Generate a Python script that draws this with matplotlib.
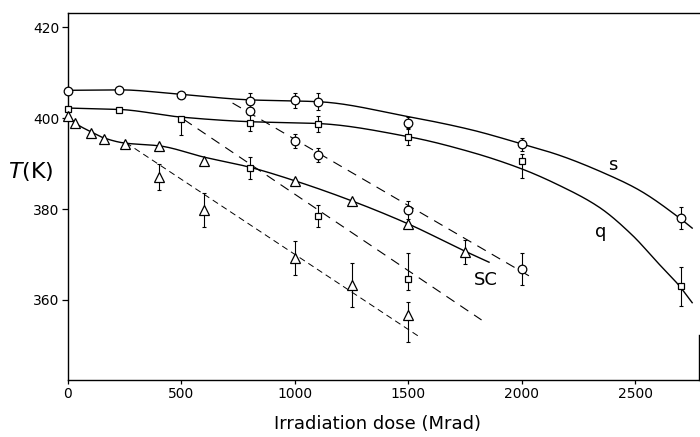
import numpy as np
import matplotlib
matplotlib.use("Agg")
import matplotlib.pyplot as plt
from matplotlib import font_manager

# ---------------- data ----------------
# series s (circles, solid curve)
s_dose = [0, 225, 500, 800, 1000, 1100, 1500, 2000, 2700]
s_T = [406.0, 406.2, 405.1, 403.7, 403.9, 403.6, 399.0, 394.2, 378.0]
s_err = [0, 0, 0, 1.7, 1.7, 1.8, 1.2, 1.4, 2.4]
s_curve_dose = [0, 225, 500, 800, 1100, 1500, 1770, 2000, 2160, 2380, 2515, 2700, 2750]
s_curve_T = [406.1, 406.2, 405.2, 404.0, 403.6, 400.3, 397.5, 394.3, 391.9, 387.5, 384.2, 377.8, 375.8]

# series q (squares, solid curve)
q_dose = [0, 225, 500, 800, 1100, 1500, 2000, 2700]
q_T = [402.1, 401.8, 399.9, 399.0, 398.7, 395.8, 390.6, 363.1]
q_err_low = [0, 0, 3.6, 1.8, 1.8, 1.7, 3.7, 4.5]
q_err_up = [0, 0, 0, 1.8, 1.8, 1.7, 1.6, 4.2]
q_curve_dose = [0, 225, 500, 800, 1100, 1500, 1770, 2000, 2160, 2340, 2485, 2600, 2690, 2750]
q_curve_T = [402.2, 401.9, 400.2, 399.2, 398.8, 395.9, 392.6, 388.8, 385.3, 380.4, 374.3, 368.1, 363.3, 359.4]

# series SC (triangles, solid curve)
sc_dose = [0, 30, 100, 160, 250, 400, 600, 1000, 1250, 1500, 1750]
sc_T = [400.5, 398.9, 396.8, 395.4, 394.4, 393.8, 390.5, 386.2, 381.8, 376.7, 370.5]
sc_err = [0, 0, 0, 0, 0, 0, 0, 0, 0, 0, 2.7]
sc_curve_dose = [0, 30, 100, 160, 250, 400, 600, 800, 1000, 1250, 1500, 1750, 1855]
sc_curve_T = [400.6, 399.0, 397.0, 395.6, 394.5, 393.9, 391.4, 389.2, 386.2, 381.8, 376.7, 370.7, 368.3]

# dashed series: circles
cd_dose = [800, 1000, 1100, 1500, 2000]
cd_T = [401.5, 395.0, 391.9, 379.8, 366.8]
cd_err = [0, 1.6, 1.6, 2.0, 3.5]
cd_line_dose = [725, 2055]
cd_line_T = [403.3, 364.6]

# dashed series: squares
sd_dose = [800, 1100, 1500]
sd_T = [389.1, 378.5, 364.7]
sd_err_low = [2.4, 2.4, 2.4]
sd_err_up = [2.4, 2.4, 5.6]
sd_line_dose = [510, 1822]
sd_line_T = [399.7, 355.6]

# dashed series: triangles
td_dose = [400, 600, 1000, 1250, 1500]
td_T = [387.1, 379.8, 369.3, 363.3, 356.8]
td_err_low = [2.9, 3.8, 3.8, 4.8, 6.0]
td_err_up = [2.9, 3.8, 3.7, 4.8, 2.8]
td_line_dose = [255, 1545]
td_line_T = [394.6, 352.0]

x_ticks = [0, 500, 1000, 1500, 2000, 2500]
y_ticks = [360, 380, 400, 420]
curve_labels = ["s", "q", "SC"]
curve_label_dose = [2402, 2347, 1841]
curve_label_T = [389.7, 375.0, 364.4]


def pchip(x, y, xs):
    x = np.asarray(x, float)
    y = np.asarray(y, float)
    h = np.diff(x)
    d = np.diff(y) / h
    n = len(x)
    m = np.zeros(n)
    m[0] = d[0]
    m[-1] = d[-1]
    for k in range(1, n - 1):
        if d[k - 1] * d[k] > 0:
            w1 = 2 * h[k] + h[k - 1]
            w2 = h[k] + 2 * h[k - 1]
            m[k] = (w1 + w2) / (w1 / d[k - 1] + w2 / d[k])
    idx = np.clip(np.searchsorted(x, xs) - 1, 0, n - 2)
    t = (xs - x[idx]) / h[idx]
    h00 = 2 * t**3 - 3 * t**2 + 1
    h10 = t**3 - 2 * t**2 + t
    h01 = -2 * t**3 + 3 * t**2
    h11 = t**3 - t**2
    return h00 * y[idx] + h10 * h[idx] * m[idx] + h01 * y[idx + 1] + h11 * h[idx] * m[idx + 1]


# ---------------- fonts ----------------
fm_names = {f.name for f in font_manager.fontManager.ttflist}
if "Liberation Sans Narrow" in fm_names:
    narrow = dict(family="Liberation Sans Narrow")
    xlab_size, curve_size = 17, 16
else:
    narrow = dict(family="DejaVu Sans")
    xlab_size, curve_size = 13, 13

plt.rcParams["lines.scale_dashes"] = False
plt.rcParams["font.family"] = ["DejaVu Sans"]

fig = plt.figure(figsize=(7.0, 4.37), dpi=100)
ax = fig.add_axes([68 / 700, 57 / 437, 631 / 700, 367 / 437])

ax.set_xlim(0, 2780)
ax.set_ylim(342.4, 423.1)

# solid curves
for cx, cy in [(s_curve_dose, s_curve_T), (q_curve_dose, q_curve_T), (sc_curve_dose, sc_curve_T)]:
    xs = np.linspace(cx[0], cx[-1], 400)
    ax.plot(xs, pchip(cx, cy, xs), color="black", lw=1.0, zorder=2)

# dashed lines
ax.plot(cd_line_dose, cd_line_T, color="black", lw=0.8, dashes=(7, 5), zorder=2)
ax.plot(sd_line_dose, sd_line_T, color="black", lw=0.8, dashes=(7, 5), zorder=2)
ax.plot(td_line_dose, td_line_T, color="black", lw=0.7, dashes=(4.5, 3), zorder=2)

eb = dict(fmt="none", ecolor="black", elinewidth=0.8, capsize=1.5, capthick=0.8, zorder=3)
mk = dict(linestyle="none", markerfacecolor="white", markeredgecolor="black",
          markeredgewidth=0.9, zorder=4, clip_on=False)

ax.errorbar(s_dose, s_T, yerr=s_err, **eb)
ax.plot(s_dose, s_T, marker="o", markersize=6.2, **mk)

ax.errorbar(q_dose, q_T, yerr=[q_err_low, q_err_up], **eb)
ax.plot(q_dose, q_T, marker="s", markersize=5.0, **mk)

ax.errorbar(sc_dose, sc_T, yerr=sc_err, **eb)
ax.plot(sc_dose, sc_T, marker="^", markersize=6.5, **mk)

ax.errorbar(cd_dose, cd_T, yerr=cd_err, **eb)
ax.plot(cd_dose, cd_T, marker="o", markersize=6.2, **mk)

ax.errorbar(sd_dose, sd_T, yerr=[sd_err_low, sd_err_up], **eb)
ax.plot(sd_dose, sd_T, marker="s", markersize=5.0, **mk)

ax.errorbar(td_dose, td_T, yerr=[td_err_low, td_err_up], **eb)
ax.plot(td_dose, td_T, marker="^", markersize=6.5, **mk)

for lab, xd, yd in zip(curve_labels, curve_label_dose, curve_label_T):
    ax.text(xd, yd, lab, ha="center", va="center", fontsize=curve_size, color="black", **narrow)

# axes styling
ax.set_xticks(x_ticks)
ax.set_yticks(y_ticks)
ax.set_xticklabels([str(v) for v in x_ticks])
ax.set_yticklabels([str(v) for v in y_ticks])
ax.tick_params(axis="x", direction="out", length=3, width=0.9, pad=2, labelsize=10)
ax.tick_params(axis="y", direction="out", length=4.5, width=0.9, pad=1.5, labelsize=10)
for side in ["left", "bottom", "top"]:
    ax.spines[side].set_linewidth(1.0)
ax.spines["right"].set_linewidth(1.0)
ax.spines["right"].set_bounds(342.4, 352.3)

fig.text(378 / 700, 1 - 424 / 437, "Irradiation dose (Mrad)", ha="center", va="center",
         fontsize=xlab_size, **narrow)
fig.text(31 / 700, 1 - 171.5 / 437, r"$T$(K)", ha="center", va="center", fontsize=16)

fig.savefig("out.png", dpi=100)
